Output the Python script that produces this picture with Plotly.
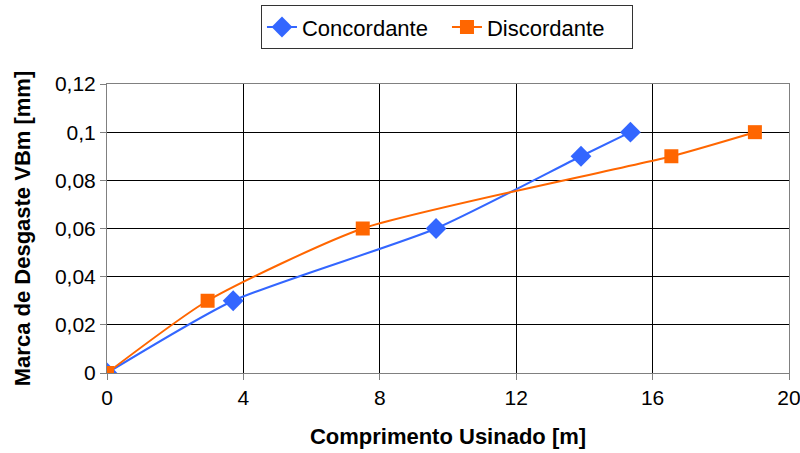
import plotly.graph_objects as go

conc_x = [0, 3.7, 9.65, 13.9, 15.35]
conc_y = [0, 0.03, 0.06, 0.09, 0.10]
disc_x = [0, 2.95, 7.5, 16.55, 19.0]
disc_y = [0, 0.03, 0.06, 0.09, 0.10]
x_ticks = [0, 4, 8, 12, 16, 20]
y_ticks = [0, 0.02, 0.04, 0.06, 0.08, 0.1, 0.12]

fig = go.Figure()
fig.add_trace(go.Scatter(x=conc_x, y=conc_y, name="Concordante", mode="lines+markers",
                         line=dict(color="#3366FF", width=2, shape="spline", smoothing=0.6),
                         marker=dict(symbol="diamond", size=16, color="#3366FF")))
fig.add_trace(go.Scatter(x=disc_x, y=disc_y, name="Discordante", mode="lines+markers",
                         line=dict(color="#FF6600", width=2, shape="spline", smoothing=0.6),
                         marker=dict(symbol="square", size=14, color="#FF6600")))

fig.update_layout(
    width=800, height=453,
    margin=dict(l=107, r=11, t=84, b=80, autoexpand=False),
    paper_bgcolor="white", plot_bgcolor="white",
    separators=",.",
    font=dict(family="Liberation Sans, Arial", size=21, color="black"),
    legend=dict(orientation="h", x=0.4985, xanchor="center", y=0.94, yanchor="middle",
                yref="container", entrywidth=140,
                bordercolor="#333333", borderwidth=1, font=dict(size=22),
                tracegroupgap=0),
    showlegend=True,
)
fig.update_xaxes(range=[0, 20], tickvals=x_ticks, showgrid=True, gridcolor="black", gridwidth=1,
                 showline=True, linecolor="#808080", mirror=True, ticks="outside", ticklen=6,
                 tickcolor="#808080", zeroline=False, automargin=False, ticklabeloverflow="allow",
                 title=dict(text="<b>Comprimento Usinado [m]</b>", font=dict(size=22), standoff=20))
fig.update_yaxes(range=[0, 0.12], tickvals=y_ticks, showgrid=True, gridcolor="black", gridwidth=1,
                 showline=True, linecolor="#808080", mirror=True, ticks="outside", ticklen=6,
                 tickcolor="#808080", zeroline=False, automargin=False,
                 title=dict(text="<b>Marca de Desgaste VBm [mm]</b>", font=dict(size=22), standoff=18))

fig.write_html("out.html", config={"displayModeBar": False},
               post_script="document.body.style.margin='0';document.body.style.overflow='hidden';")
